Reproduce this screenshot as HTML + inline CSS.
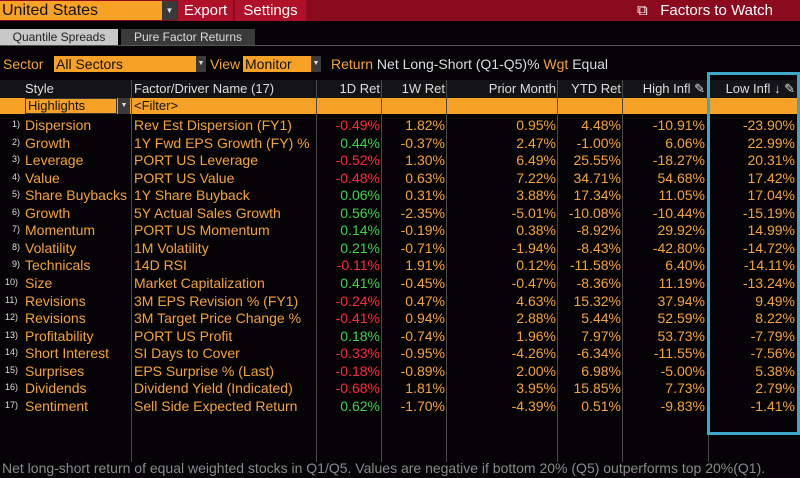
<!DOCTYPE html>
<html><head><meta charset="utf-8"><style>
body{margin:0;width:800px;height:478px;background:#050306;font-family:"Liberation Sans",sans-serif;font-size:13px;color:#f3a33a;position:relative;overflow:hidden}
.a{position:absolute;white-space:nowrap}
.r{text-align:right}
.vl{position:absolute;width:1px;background:#4a4a4a;top:80px;height:382px}
</style></head><body>
<div class="a" style="left:0;top:0;width:800px;height:21px;background:#8c0a1e"></div>
<div class="a" style="left:0;top:1px;width:160px;height:19px;background:#f7a226;color:#111;font-size:16px;line-height:19px;padding-left:2px">United States</div>
<div class="a" style="left:162px;top:1px;width:15px;height:19px;background:#3a3a3a;color:#ddd;font-size:8px;line-height:19px;text-align:center">▼</div>
<div class="a" style="left:178px;top:0;width:55px;height:21px;background:#b0102a;color:#fff;font-size:15px;line-height:21px;text-align:center">Export</div>
<div class="a" style="left:235px;top:0;width:71px;height:21px;background:#b0102a;color:#fff;font-size:15px;line-height:21px;text-align:center">Settings</div>
<div class="a" style="left:637px;top:0;height:21px;color:#fff;font-size:15px;line-height:21px">⧉&nbsp;&nbsp; Factors to Watch</div>
<div class="a" style="left:0;top:29px;width:118px;height:16px;background:#c8c8c8;color:#222;font-size:12px;line-height:16px;text-align:center">Quantile Spreads</div>
<div class="a" style="left:121px;top:29px;width:134px;height:16px;background:#3a3a3a;color:#ddd;font-size:12px;line-height:16px;text-align:center">Pure Factor Returns</div>
<div class="a" style="left:0;top:45px;width:800px;height:1px;background:#555"></div>
<div class="a" style="left:3px;top:56px;font-size:14px">Sector</div>
<div class="a" style="left:54px;top:56px;width:140px;height:16px;background:#f7a226;color:#111;font-size:14px;line-height:16px;padding-left:2px">All Sectors</div>
<div class="a" style="left:196px;top:56px;width:10px;height:16px;background:#3a3a3a;color:#ddd;font-size:7px;line-height:16px;text-align:center">▼</div>
<div class="a" style="left:210px;top:56px;font-size:14px">View</div>
<div class="a" style="left:243px;top:56px;width:66px;height:16px;background:#f7a226;color:#111;font-size:14px;line-height:16px;padding-left:2px">Monitor</div>
<div class="a" style="left:311px;top:56px;width:10px;height:16px;background:#3a3a3a;color:#ddd;font-size:7px;line-height:16px;text-align:center">▼</div>
<div class="a" style="left:331px;top:56px;font-size:14px">Return <span style="color:#ddd">Net Long-Short (Q1-Q5)%</span> Wgt <span style="color:#ddd">Equal</span></div>
<div class="a" style="left:0;top:80px;width:800px;height:18px;background:#141416"></div>
<div class="a" style="left:0;top:98px;width:800px;height:16px;background:#f7a226"></div>
<div class="a" style="left:25px;top:98px;width:92px;height:16px;border:1px solid #333;box-sizing:border-box;color:#111;line-height:14px;padding-left:2px">Highlights</div>
<div class="a" style="left:118px;top:98px;width:12px;height:16px;background:#3a3a3a;color:#ddd;font-size:7px;line-height:16px;text-align:center">▼</div>
<div class="a" style="left:134px;top:98px;color:#111;line-height:16px">&lt;Filter&gt;</div>
<div id="t"></div>
<div class="a" style="left:707px;top:72px;width:87px;height:357px;border:3px solid #3ea6c8"></div>
<div class="a" style="left:2px;top:460px;color:#8a8a8a;font-size:14px">Net long-short return of equal weighted stocks in Q1/Q5. Values are negative if bottom 20% (Q5) outperforms top 20%(Q1).</div>
<script>
const styles=["Dispersion","Growth","Leverage","Value","Share Buybacks","Growth","Momentum","Volatility","Technicals","Size","Revisions","Revisions","Profitability","Short Interest","Surprises","Dividends","Sentiment"];
const factors=["Rev Est Dispersion (FY1)","1Y Fwd EPS Growth (FY) %","PORT US Leverage","PORT US Value","1Y Share Buyback","5Y Actual Sales Growth","PORT US Momentum","1M Volatility","14D RSI","Market Capitalization","3M EPS Revision % (FY1)","3M Target Price Change %","PORT US Profit","SI Days to Cover","EPS Surprise % (Last)","Dividend Yield (Indicated)","Sell Side Expected Return"];
const ret1d=[-0.49,0.44,-0.52,-0.48,0.06,0.56,0.14,0.21,-0.11,0.41,-0.24,-0.41,0.18,-0.33,-0.18,-0.68,0.62];
const ret1w=[1.82,-0.37,1.30,0.63,0.31,-2.35,-0.19,-0.71,1.91,-0.45,0.47,0.94,-0.74,-0.95,-0.89,1.81,-1.70];
const priorMonth=[0.95,2.47,6.49,7.22,3.88,-5.01,0.38,-1.94,0.12,-0.47,4.63,2.88,1.96,-4.26,2.00,3.95,-4.39];
const ytd=[4.48,-1.00,25.55,34.71,17.34,-10.08,-8.92,-8.43,-11.58,-8.36,15.32,5.44,7.97,-6.34,6.98,15.85,0.51];
const highInfl=[-10.91,6.06,-18.27,54.68,11.05,-10.44,29.92,-42.80,6.40,11.19,37.94,52.59,53.73,-11.55,-5.00,7.73,-9.83];
const lowInfl=[-23.90,22.99,20.31,17.42,17.04,-15.19,14.99,-14.72,-14.11,-13.24,9.49,8.22,-7.79,-7.56,5.38,2.79,-1.41];
const cols=[
 {h:"Style",x:25,r:false},{h:"Factor/Driver Name (17)",x:134,r:false},
 {h:"1D Ret",x:380,r:true,d:ret1d,c:true},{h:"1W Ret",x:445,r:true,d:ret1w},
 {h:"Prior Month",x:556,r:true,d:priorMonth},{h:"YTD Ret",x:621,r:true,d:ytd},
 {h:"High Infl \u270E",x:705,r:true,d:highInfl},{h:"Low Infl \u2193 \u270E",x:795,r:true,d:lowInfl}];
const t=document.getElementById('t');
[131,316,381,446,557,622,708].forEach(x=>{const v=document.createElement('div');v.className='vl';v.style.left=x+'px';


t.appendChild(v);});
cols.forEach(c=>{const e=document.createElement('div');e.className='a';e.textContent=c.h;e.style.top='81px';e.style.color='#ddd';
if(c.r){e.style.right=(800-c.x)+'px';}else e.style.left=c.x+'px';


t.appendChild(e);});
const y0=117,dy=17.55;
styles.forEach((s,i)=>{const y=y0+i*dy;
 const n=document.createElement('div');n.className='a';n.style.left=(i<9?12:5)+'px';n.style.top=(y+2)+'px';n.style.fontSize='9px';n.style.color='#ddd';n.textContent=(i+1)+')';
 
 
 t.appendChild(n);
 const a=document.createElement('div');a.className='a';a.style.left='25px';a.style.top=y+'px';a.style.fontSize='14px';a.textContent=s;
 
 
 t.appendChild(a);
 const b=document.createElement('div');b.className='a';b.style.left='134px';b.style.top=y+'px';b.style.fontSize='14px';b.textContent=factors[i];
 
 
 t.appendChild(b);
 cols.slice(2).forEach(c=>{const v=c.d[i];const e=document.createElement('div');e.className='a';e.style.right=(800-c.x)+'px';e.style.top=y+'px';e.style.fontSize='14px';
  e.textContent=v.toFixed(2)+'%';
  if(c.c)e.style.color=v<0?'#ff2a3c':'#3fd24a';
  
  
  t.appendChild(e);});
});
</script>
</body></html>
